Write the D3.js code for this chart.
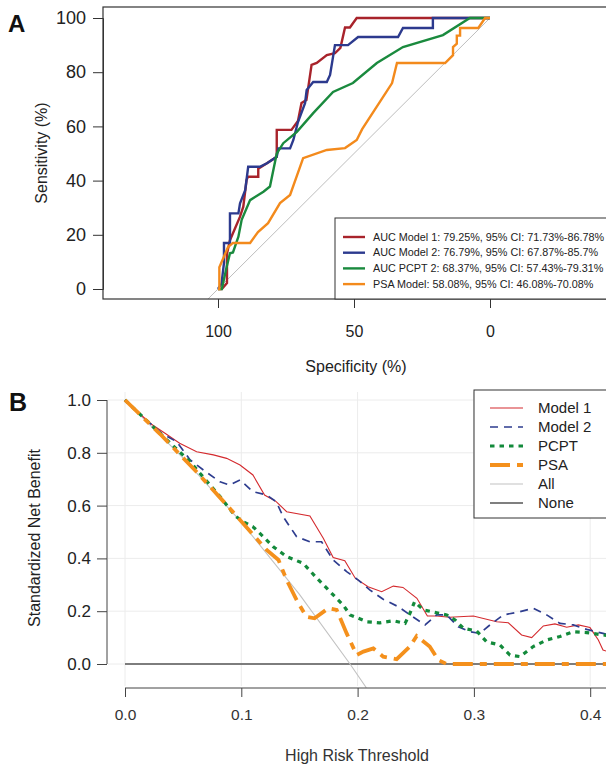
<!DOCTYPE html>
<html>
<head>
<meta charset="utf-8">
<script src="https://cdn.jsdelivr.net/npm/d3@7"></script>
<style>
  body { margin: 0; background: #fff; }
  svg { display: block; font-family: "Liberation Sans", Arial, sans-serif; }
</style>
</head>
<body>
<div id="chart"></div>
<script>
// ---- panel A: ROC curves, [specificity, sensitivity] in %
const roc_model1 = [[100,0],[98.6,0],[96.7,2.2],[96.7,13],[95.6,18],[91.9,26.7],[90.7,30.4],[89.5,40.2],[89,41.4],[85.2,41.4],[85.2,44.4],[82,46.4],[78.4,48.8],[78.4,58.7],[73,58.7],[70.6,62],[69.3,68.6],[67.5,69.7],[65.6,82.7],[63.7,83.4],[60,86.3],[57,87],[55,89],[53.3,96.5],[51.5,96.5],[49,100],[0,100]];
const roc_model2 = [[100,0],[98.7,2],[97.8,9.6],[97.8,17],[95.6,17],[95.6,27.9],[92.5,27.9],[91.9,31.6],[90,36.5],[88.9,45.1],[84.6,45.1],[82,46.4],[78.4,48.8],[77.8,51.9],[73.5,51.9],[72.3,55],[70.6,61.6],[68,68.6],[67.4,73.4],[65,76.4],[60,76.4],[58.8,79],[57,90],[52.2,90],[48.5,93],[33.8,93],[32,96.3],[21,96.3],[21,100],[0,100]];
const roc_pcpt = [[100,0],[98.6,0],[96.8,8.2],[95.6,13.2],[94.5,13.5],[92.5,19.3],[91.3,25.5],[88.2,32.8],[83.3,35.9],[80.9,37.8],[78.4,50],[76,53.8],[71,58],[65,64.9],[57.7,72.7],[50.4,76],[41.6,83.4],[32,89.3],[17.3,93.7],[7.4,100],[0,100]];
const roc_psa = [[100,0],[99.5,0],[99.5,8],[96.3,15.5],[94.5,17],[88.2,17],[85.3,21],[81.6,24.3],[77.2,31.7],[73.5,34.7],[68.7,48.3],[60,51.3],[53.3,52],[49,55],[47,59],[36,76],[34.2,83.4],[16.5,83.4],[13.6,86.3],[13.6,89.3],[12.2,90.5],[12.2,93.5],[11,93.5],[11,96.3],[4.3,96.3],[1.8,100],[0,100]];
const roc_chance = [[104,-4],[0,100]];
const roc_labels = ["AUC Model 1: 79.25%, 95% CI: 71.73%-86.78%", "AUC Model 2: 76.79%, 95% CI: 67.87%-85.7%", "AUC PCPT 2: 68.37%, 95% CI: 57.43%-79.31%", "PSA Model: 58.08%, 95% CI: 46.08%-70.08%"];
const roc_colors = ["#a8232b", "#2c3a8e", "#1a8a3e", "#f38a1c"];
const roc_yticks = [0, 20, 40, 60, 80, 100];
const roc_xticks = [100, 50, 0];

// ---- panel B: decision curves, [threshold, standardized net benefit]
const dca_model1 = [[0,1],[0.0215,0.912],[0.0344,0.874],[0.047,0.836],[0.0616,0.804],[0.076,0.792],[0.0874,0.779],[0.0989,0.754],[0.11,0.716],[0.12,0.64],[0.13,0.615],[0.139,0.577],[0.159,0.561],[0.1705,0.476],[0.179,0.403],[0.189,0.391],[0.198,0.325],[0.209,0.293],[0.2207,0.274],[0.2307,0.295],[0.239,0.29],[0.251,0.249],[0.26,0.182],[0.268,0.182],[0.279,0.177],[0.2995,0.182],[0.3196,0.16],[0.3296,0.156],[0.341,0.11],[0.3497,0.1],[0.3597,0.144],[0.3697,0.152],[0.3798,0.139],[0.3898,0.148],[0.3998,0.138],[0.407,0.091],[0.411,0.053],[0.42,0.04]];
const dca_model2 = [[0,1],[0.0215,0.912],[0.0315,0.874],[0.0444,0.842],[0.056,0.773],[0.0674,0.735],[0.0817,0.69],[0.09,0.678],[0.0989,0.697],[0.11,0.653],[0.1218,0.64],[0.13,0.615],[0.136,0.558],[0.1476,0.482],[0.159,0.463],[0.169,0.463],[0.179,0.394],[0.1906,0.35],[0.2006,0.318],[0.2107,0.28],[0.222,0.245],[0.235,0.217],[0.245,0.186],[0.258,0.148],[0.268,0.186],[0.2766,0.186],[0.2866,0.141],[0.2966,0.122],[0.305,0.116],[0.3138,0.148],[0.3253,0.186],[0.3396,0.198],[0.351,0.211],[0.3626,0.186],[0.374,0.154],[0.3855,0.148],[0.397,0.131],[0.411,0.116],[0.42,0.105]];
const dca_pcpt = [[0,1],[0.03,0.874],[0.056,0.766],[0.0817,0.634],[0.095,0.56],[0.1017,0.539],[0.11,0.52],[0.119,0.482],[0.1275,0.444],[0.139,0.407],[0.1533,0.381],[0.165,0.325],[0.1763,0.274],[0.1877,0.223],[0.1935,0.186],[0.208,0.16],[0.219,0.156],[0.2307,0.164],[0.2408,0.154],[0.245,0.192],[0.249,0.236],[0.2565,0.205],[0.268,0.194],[0.2766,0.186],[0.2838,0.167],[0.291,0.135],[0.3024,0.125],[0.311,0.084],[0.3224,0.072],[0.331,0.034],[0.3396,0.028],[0.351,0.066],[0.3626,0.091],[0.374,0.104],[0.3855,0.122],[0.397,0.119],[0.411,0.11],[0.42,0.105]];
const dca_psa = [[0,1],[0.03,0.872],[0.06,0.735],[0.09,0.59],[0.1218,0.432],[0.132,0.394],[0.139,0.318],[0.1476,0.242],[0.156,0.179],[0.163,0.173],[0.1748,0.211],[0.182,0.205],[0.1906,0.116],[0.1992,0.034],[0.205,0.047],[0.2135,0.059],[0.222,0.028],[0.2336,0.018],[0.245,0.066],[0.2508,0.106],[0.262,0.066],[0.2694,0.015],[0.2766,0],[0.42,0]];
const dca_all = [[0,1],[0.05,0.78],[0.1,0.537],[0.15,0.264],[0.1935,0],[0.2075,-0.09]];
const dca_none = [[0,0],[0.42,0]];
const dca_labels = ["Model 1", "Model 2", "PCPT", "PSA", "All", "None"];
const dca_xticks = [0, 0.1, 0.2, 0.3, 0.4];
const dca_yticks = [0, 0.2, 0.4, 0.6, 0.8, 1.0];

const svg = d3.select("#chart").append("svg")
    .attr("width", 606)
    .attr("height", 767);

svg.append("rect").attr("width", 606).attr("height", 767).attr("fill", "#fff");

function plot_roc() {
    var x = d3.scaleLinear().domain([100, 0]).range([218, 490]);
    var y = d3.scaleLinear().domain([0, 100]).range([289, 18]);
    var g = svg.append("g");

    g.append("clipPath").attr("id", "clipA")
      .append("rect").attr("x", 103).attr("y", 7).attr("width", 520).attr("height", 292);

    var line = d3.line().x(d => x(d[0])).y(d => y(d[1]));
    var plot = g.append("g").attr("clip-path", "url(#clipA)");

    plot.append("path").datum(roc_chance)
        .attr("d", line).attr("fill", "none")
        .attr("stroke", "#bdbdbd").attr("stroke-width", 1);

    [roc_model1, roc_model2, roc_pcpt, roc_psa].forEach(function(s, i) {
        plot.append("path").datum(s)
            .attr("d", line).attr("fill", "none")
            .attr("stroke", roc_colors[i]).attr("stroke-width", 2.4)
            .attr("stroke-linejoin", "miter");
    });

    // box
    g.append("rect").attr("x", 103).attr("y", 7).attr("width", 520).attr("height", 292)
        .attr("fill", "none").attr("stroke", "#333").attr("stroke-width", 1.2);

    // y axis
    var yax = g.append("g").attr("transform", "translate(103,0)")
        .call(d3.axisLeft(y).tickValues(roc_yticks).tickSize(10).tickPadding(7));
    yax.select(".domain").attr("stroke", "#333");
    yax.selectAll(".tick line").attr("stroke", "#333");
    yax.selectAll("text").attr("font-size", 18).attr("fill", "#222").attr("font-family", null);

    // x axis
    var xax = g.append("g").attr("transform", "translate(0,299)")
        .call(d3.axisBottom(x).tickValues(roc_xticks).tickSize(9).tickPadding(18));
    xax.select(".domain").remove();
    xax.selectAll(".tick line").attr("stroke", "#333");
    xax.selectAll("text").attr("font-size", 16).attr("fill", "#222").attr("font-family", null);

    g.append("text").attr("x", 356).attr("y", 372).attr("text-anchor", "middle")
        .attr("font-size", 16).attr("fill", "#222").text("Specificity (%)");
    g.append("text").attr("transform", "translate(47,153) rotate(-90)").attr("text-anchor", "middle")
        .attr("font-size", 16).attr("fill", "#222").text("Sensitivity (%)");

    // legend
    var leg = g.append("g");
    leg.append("rect").attr("x", 335).attr("y", 218).attr("width", 290).attr("height", 81)
        .attr("fill", "#fff").attr("stroke", "#333").attr("stroke-width", 1);
    roc_labels.forEach(function(t, i) {
        var yy = 237 + i * 15.7;
        leg.append("line").attr("x1", 343).attr("x2", 365).attr("y1", yy).attr("y2", yy)
            .attr("stroke", roc_colors[i]).attr("stroke-width", 2.4);
        leg.append("text").attr("x", 373).attr("y", yy).attr("dy", "0.35em")
            .attr("font-size", 10.8).attr("fill", "#222").text(t);
    });

    g.append("text").attr("x", 8).attr("y", 32).attr("font-size", 24).attr("font-weight", "bold")
        .attr("fill", "#111").text("A");
}

function plot_dca() {
    var x = d3.scaleLinear().domain([0, 0.4]).range([125, 590.2]);
    var y = d3.scaleLinear().domain([0, 1]).range([664, 400]);
    var g = svg.append("g");

    g.append("clipPath").attr("id", "clipB")
      .append("rect").attr("x", 107).attr("y", 390).attr("width", 500).attr("height", 298);

    // grid
    var grid = g.append("g").attr("stroke", "#ececec").attr("stroke-width", 1);
    dca_xticks.forEach(function(t) {
        grid.append("line").attr("x1", x(t)).attr("x2", x(t)).attr("y1", 392).attr("y2", 686);
    });
    dca_yticks.forEach(function(v) {
        grid.append("line").attr("x1", 108).attr("x2", 606).attr("y1", y(v)).attr("y2", y(v));
    });

    var line = d3.line().x(d => x(d[0])).y(d => y(d[1]));
    var plot = g.append("g").attr("clip-path", "url(#clipB)");

    var styles = [
        { data: dca_model1, color: "#d42a2e", width: 1.1, dash: null },
        { data: dca_model2, color: "#2e3d8f", width: 1.7, dash: "8,6" },
        { data: dca_pcpt, color: "#138a3b", width: 3.2, dash: "4.5,5" },
        { data: dca_psa, color: "#f4901c", width: 3.8, dash: "20,7,7,7" },
        { data: dca_all, color: "#c2c2c2", width: 1.1, dash: null },
        { data: dca_none, color: "#555", width: 1.5, dash: null }
    ];

    // draw order: reference lines first, then models
    [5, 4, 0, 1, 2, 3].forEach(function(i) {
        var s = styles[i];
        plot.append("path").datum(s.data)
            .attr("d", line).attr("fill", "none")
            .attr("stroke", s.color).attr("stroke-width", s.width)
            .attr("stroke-dasharray", s.dash);
    });

    // y axis
    var yax = g.append("g").attr("transform", "translate(107,0)")
        .call(d3.axisLeft(y).tickValues(dca_yticks).tickFormat(d3.format(".1f")).tickSize(10).tickPadding(6));
    yax.select(".domain").attr("stroke", "#444").attr("d", "M0,400V664");
    yax.selectAll(".tick line").attr("stroke", "#444");
    yax.selectAll("text").attr("font-size", 17).attr("fill", "#222").attr("font-family", null);

    // x axis (line runs on past the panel edge)
    var xax = g.append("g").attr("transform", "translate(0,688)")
        .call(d3.axisBottom(x).tickValues(dca_xticks).tickFormat(d3.format(".1f")).tickSize(9).tickPadding(12));
    xax.select(".domain").attr("stroke", "#444").attr("d", "M125,0H640");
    xax.selectAll(".tick line").attr("stroke", "#444");
    xax.selectAll("text").attr("font-size", 15.5).attr("fill", "#333").attr("font-family", null);

    g.append("text").attr("x", 357).attr("y", 761).attr("text-anchor", "middle")
        .attr("font-size", 16).attr("fill", "#333").text("High Risk Threshold");
    g.append("text").attr("transform", "translate(40,538) rotate(-90)").attr("text-anchor", "middle")
        .attr("font-size", 16).attr("fill", "#222").text("Standardized Net Benefit");

    // legend
    var leg = g.append("g");
    leg.append("rect").attr("x", 474).attr("y", 390).attr("width", 150).attr("height", 128)
        .attr("fill", "#fff").attr("stroke", "#333").attr("stroke-width", 1);
    dca_labels.forEach(function(t, i) {
        var s = styles[i];
        var yy = 408 + i * 19;
        leg.append("line").attr("x1", 490).attr("x2", 523).attr("y1", yy).attr("y2", yy)
            .attr("stroke", s.color).attr("stroke-width", s.width)
            .attr("stroke-dasharray", s.dash);
        leg.append("text").attr("x", 538).attr("y", yy).attr("dy", "0.35em")
            .attr("font-size", 15).attr("fill", "#222").text(t);
    });

    g.append("text").attr("x", 9).attr("y", 411).attr("font-size", 25).attr("font-weight", "bold")
        .attr("fill", "#111").text("B");
}

plot_roc();
plot_dca();
</script>
</body>
</html>
